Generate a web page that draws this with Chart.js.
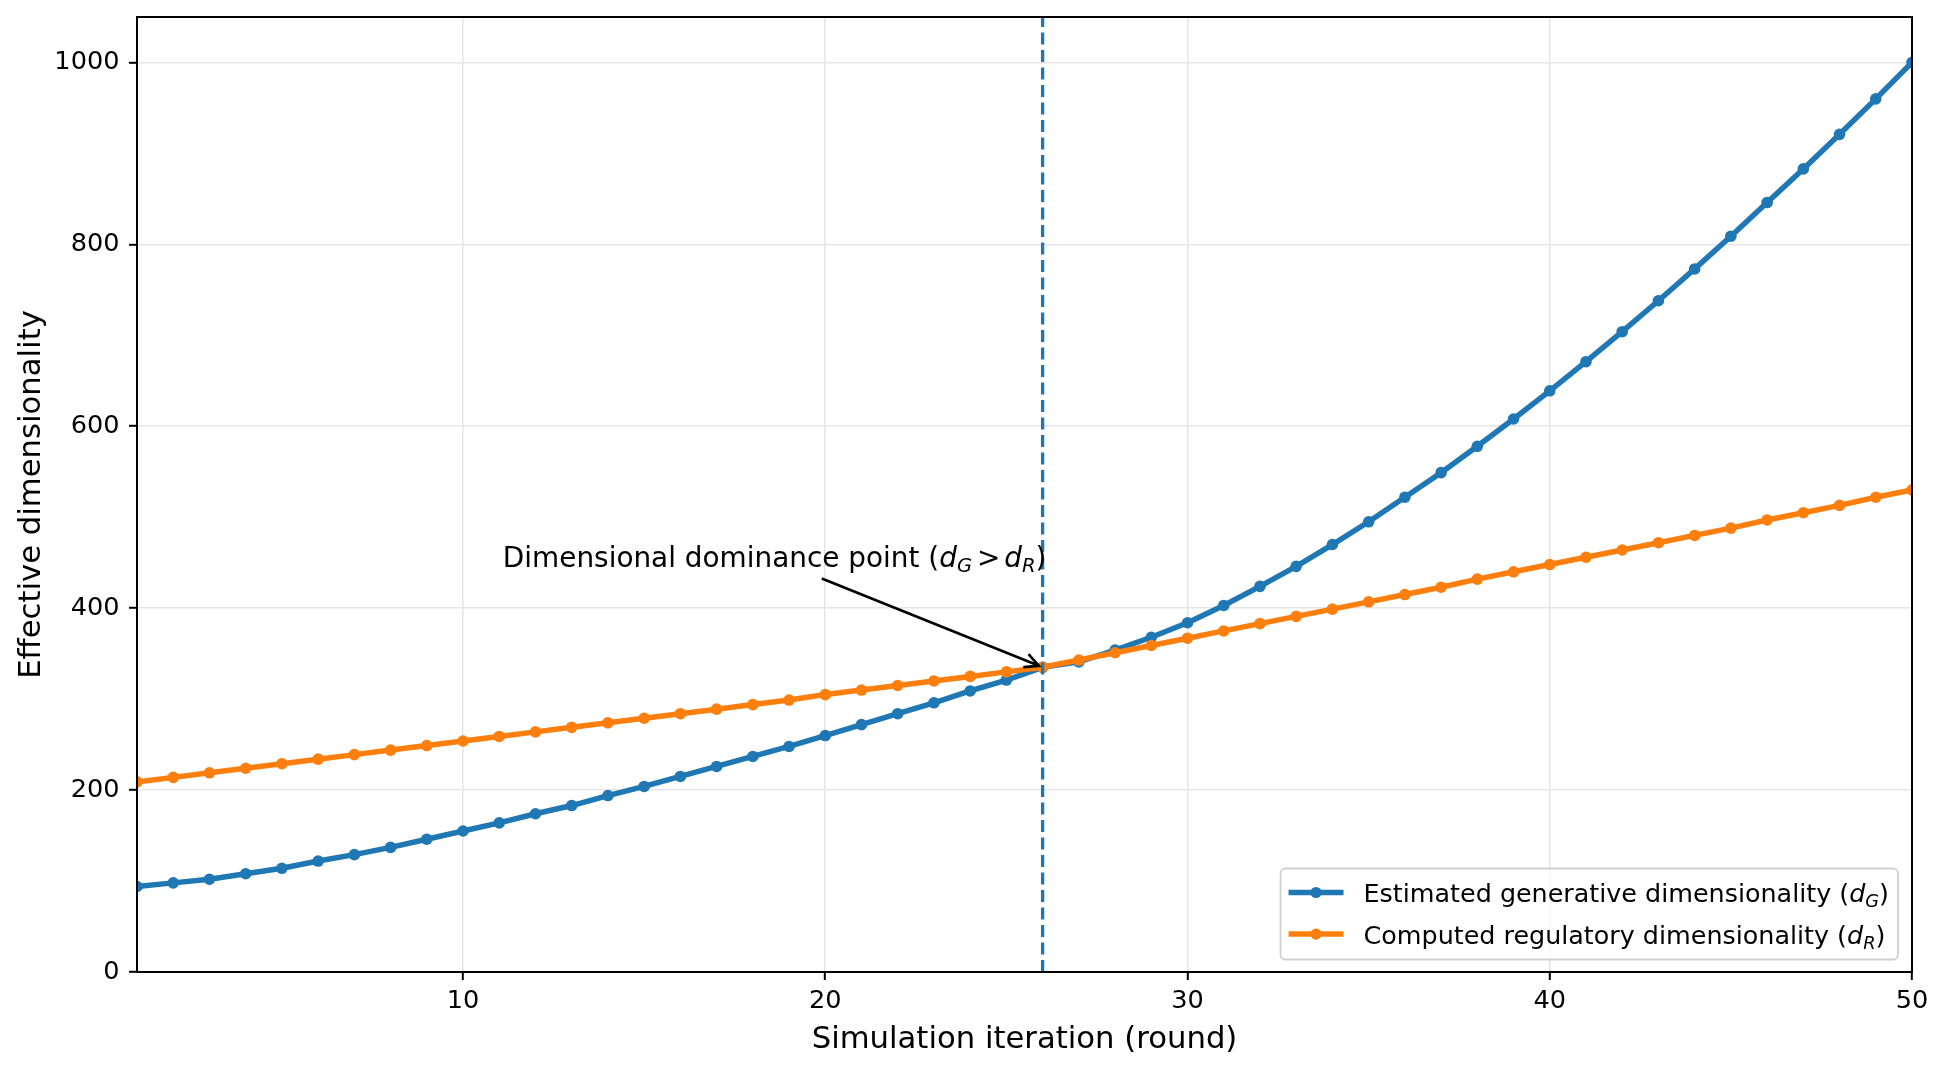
<!DOCTYPE html>
<html>
<head>
<meta charset="utf-8">
<script src="https://cdn.jsdelivr.net/npm/chart.js@4.4.0/dist/chart.umd.min.js"></script>
<style>
  html, body { margin: 0; padding: 0; background: #fff; }
  canvas { display: block; }
</style>
</head>
<body>
<canvas id="dim-chart" width="1940" height="1067"></canvas>
<script>
const ROUNDS = [
  1, 2, 3, 4, 5, 6, 7, 8, 9, 10,
  11, 12, 13, 14, 15, 16, 17, 18, 19, 20,
  21, 22, 23, 24, 25, 26, 27, 28, 29, 30,
  31, 32, 33, 34, 35, 36, 37, 38, 39, 40,
  41, 42, 43, 44, 45, 46, 47, 48, 49, 50,
];

// d_G, estimated generative dimensionality
const GEN_DIM = [
  94, 98, 102, 108, 114, 122, 129, 137, 146, 155,
  164, 174, 183, 194, 204, 215, 226, 237, 248, 260,
  272, 284, 296, 309, 321, 335, 341, 354, 368, 384,
  403, 424, 446, 470, 495, 522, 549, 578, 608, 639,
  671, 704, 738, 773, 809, 846, 883, 921, 960, 1000,
];

// d_R, computed regulatory dimensionality
const REG_DIM = [
  209, 214, 219, 224, 229, 234, 239, 244, 249, 254,
  259, 264, 269, 274, 279, 284, 289, 294, 299, 305,
  310, 315, 320, 325, 330, 335, 343, 351, 359, 367,
  375, 383, 391, 399, 407, 415, 423, 432, 440, 448,
  456, 464, 472, 480, 488, 497, 505, 513, 522, 530,
];

const X_TICKS = [10, 20, 30, 40, 50];
const Y_TICKS = [0, 200, 400, 600, 800, 1000];

const SERIES_LABELS = [
  "Estimated generative dimensionality",
  "Computed regulatory dimensionality",
];
const SERIES_SUBS = ["G", "R"];
const COLORS = ["#1f77b4", "#ff7f0e"];

const DOMINANCE_ROUND = 26;
const DOMINANCE_VALUE = 335;
const NOTE_ROUND = 11.1;
const NOTE_VALUE = 445.5;

const FAMILY = "'DejaVu Sans', sans-serif";
const TICK_SIZE = 25.6;
const LEGEND_SIZE = 25.4;
const NOTE_SIZE = 27.9;
const TITLE_SIZE = 30.7;

Chart.defaults.font.family = FAMILY;
Chart.defaults.color = "#000";

function fontStr(size, italic) {
  return (italic ? "italic " : "") + size + "px " + FAMILY;
}

// text pieces with italic / subscript, like matplotlib mathtext
function mathRuns(before, sub) {
  return [
    { text: before },
    { text: "d", italic: true },
    { text: sub, italic: true, sub: true },
  ];
}

function runsWidth(ctx, runs, size) {
  let w = 0;
  for (const r of runs) {
    const s = r.sub ? size * 0.7 : size;
    ctx.font = fontStr(s, r.italic);
    w += (r.pad || 0) + ctx.measureText(r.text).width + (r.padAfter || 0);
  }
  return w;
}

function drawRuns(ctx, runs, x, y, size) {
  ctx.textAlign = "left";
  ctx.textBaseline = "alphabetic";
  for (const r of runs) {
    const s = r.sub ? size * 0.7 : size;
    const dy = r.sub ? size * 0.2 : 0;
    ctx.font = fontStr(s, r.italic);
    x += r.pad || 0;
    ctx.fillText(r.text, x, y + dy);
    x += ctx.measureText(r.text).width + (r.padAfter || 0);
  }
  return x;
}

function legendRuns(i) {
  return [...mathRuns(SERIES_LABELS[i] + " (", SERIES_SUBS[i]), { text: ")" }];
}

function noteRuns() {
  return [
    ...mathRuns("Dimensional dominance point (", "G"),
    { text: ">", pad: NOTE_SIZE * 0.18, padAfter: NOTE_SIZE * 0.14 },
    { text: "d", italic: true },
    { text: "R", italic: true, sub: true },
    { text: ")" },
  ];
}

const extrasPlugin = {
  id: "extras",
  afterDatasetsDraw(chart) {
    const { ctx, chartArea, scales } = chart;
    const x = scales.x;
    const y = scales.y;

    // dashed vertical marker at the dominance round
    const vx = x.getPixelForValue(DOMINANCE_ROUND);
    ctx.save();
    ctx.beginPath();
    ctx.rect(chartArea.left, chartArea.top, chartArea.right - chartArea.left, chartArea.bottom - chartArea.top);
    ctx.clip();
    ctx.strokeStyle = COLORS[0];
    ctx.lineWidth = 3.3;
    ctx.setLineDash([12, 5.5]);
    ctx.beginPath();
    ctx.moveTo(vx, chartArea.bottom);
    ctx.lineTo(vx, chartArea.top);
    ctx.stroke();
    ctx.restore();

    // annotation text + arrow
    ctx.save();
    ctx.fillStyle = "#000";
    const runs = noteRuns();
    const tx = x.getPixelForValue(NOTE_ROUND);
    const ty = y.getPixelForValue(NOTE_VALUE);
    const w = runsWidth(ctx, runs, NOTE_SIZE);
    drawRuns(ctx, runs, tx, ty, NOTE_SIZE);

    const top = ty - 0.76 * NOTE_SIZE;
    const bottom = ty + 0.24 * NOTE_SIZE;
    const cx = tx + w / 2;
    const cy = (top + bottom) / 2;
    const px = x.getPixelForValue(DOMINANCE_ROUND);
    const py = y.getPixelForValue(DOMINANCE_VALUE);
    const t = (bottom + 5 - cy) / (py - cy);
    const sx = cx + t * (px - cx);
    const sy = cy + t * (py - cy);
    const ang = Math.atan2(py - sy, px - sx);
    const ex = px - Math.cos(ang) * 4;
    const ey = py - Math.sin(ang) * 4;
    ctx.strokeStyle = "#000";
    ctx.lineWidth = 2.6;
    ctx.beginPath();
    ctx.moveTo(sx, sy);
    ctx.lineTo(ex, ey);
    ctx.stroke();
    const hl = 14, hw = 7;
    const bx = ex - Math.cos(ang) * hl;
    const by = ey - Math.sin(ang) * hl;
    ctx.beginPath();
    ctx.moveTo(bx - Math.sin(ang) * hw, by + Math.cos(ang) * hw);
    ctx.lineTo(ex, ey);
    ctx.lineTo(bx + Math.sin(ang) * hw, by - Math.cos(ang) * hw);
    ctx.stroke();
    ctx.restore();

    // legend, lower right, matplotlib style
    ctx.save();
    const textW = Math.max(...SERIES_LABELS.map((_, i) => runsWidth(ctx, legendRuns(i), LEGEND_SIZE)));
    const boxW = 8 + 55 + 20 + textW + 9;
    const boxH = 91;
    const bxr = chartArea.right - 14;
    const bxb = chartArea.bottom - 12.5;
    const left = bxr - boxW;
    const topB = bxb - boxH;
    ctx.beginPath();
    ctx.roundRect(left, topB, boxW, boxH, 5);
    ctx.fillStyle = "rgba(255,255,255,0.8)";
    ctx.fill();
    ctx.strokeStyle = "#d0d0d0";
    ctx.lineWidth = 1.8;
    ctx.stroke();
    SERIES_LABELS.forEach((_, i) => {
      const rowY = topB + 24 + i * 41.6;
      ctx.strokeStyle = COLORS[i];
      ctx.lineWidth = 5.5;
      ctx.beginPath();
      ctx.moveTo(left + 8, rowY);
      ctx.lineTo(left + 63, rowY);
      ctx.stroke();
      ctx.fillStyle = COLORS[i];
      ctx.beginPath();
      ctx.arc(left + 35.5, rowY, 5.6, 0, Math.PI * 2);
      ctx.fill();
      ctx.fillStyle = "#000";
      drawRuns(ctx, legendRuns(i), left + 83, rowY + 0.39 * LEGEND_SIZE, LEGEND_SIZE);
    });
    ctx.restore();
  },
  afterDraw(chart) {
    // full box frame like matplotlib spines
    const { ctx, chartArea } = chart;
    ctx.save();
    ctx.strokeStyle = "#000";
    ctx.lineWidth = 2;
    ctx.strokeRect(chartArea.left, chartArea.top, chartArea.right - chartArea.left, chartArea.bottom - chartArea.top);
    ctx.restore();
  },
};

const seriesData = [GEN_DIM, REG_DIM].map((vals) => ROUNDS.map((r, i) => ({ x: r, y: vals[i] })));

new Chart(document.getElementById("dim-chart"), {
  type: "line",
  data: {
    datasets: seriesData.map((data, i) => ({
      label: SERIES_LABELS[i],
      data,
      borderColor: COLORS[i],
      backgroundColor: COLORS[i],
      borderWidth: 5.5,
      pointRadius: 5.8,
      pointBorderWidth: 0,
      pointBackgroundColor: COLORS[i],
      tension: 0,
      clip: 0,
      order: i === 0 ? 2 : 1,
    })),
  },
  options: {
    responsive: false,
    animation: false,
    devicePixelRatio: 1,
    layout: { padding: { top: 17, right: 28, left: 0, bottom: 0 } },
    plugins: {
      legend: { display: false },
      tooltip: { enabled: false },
    },
    scales: {
      x: {
        type: "linear",
        min: 1,
        max: 50,
        afterBuildTicks: (s) => { s.ticks = X_TICKS.map((v) => ({ value: v })); },
        afterFit: (s) => {
          s.height = 95;
          s.paddingLeft = 0;
          s.paddingRight = 0;
        },
        ticks: { font: { size: TICK_SIZE }, padding: 6, maxRotation: 0, color: "#000", callback: (v) => String(v) },
        grid: { color: "#e6e6e6", lineWidth: 1.6, tickColor: "#000", tickLength: 8, tickWidth: 2 },
        border: { color: "#000", width: 2 },
        title: {
          display: true,
          text: "Simulation iteration (round)",
          font: { size: TITLE_SIZE },
          padding: { top: 0, bottom: 9 },
          color: "#000",
        },
      },
      y: {
        min: 0,
        max: 1050,
        afterBuildTicks: (s) => { s.ticks = Y_TICKS.map((v) => ({ value: v })); },
        afterFit: (s) => {
          s.width = 137;
          s.paddingTop = 0;
          s.paddingBottom = 0;
        },
        ticks: { font: { size: TICK_SIZE }, padding: 9.5, color: "#000", callback: (v) => String(v) },
        grid: { color: "#e6e6e6", lineWidth: 1.6, tickColor: "#000", tickLength: 8, tickWidth: 2 },
        border: { color: "#000", width: 2 },
        title: {
          display: true,
          text: "Effective dimensionality",
          font: { size: TITLE_SIZE },
          padding: { top: 14, bottom: 0 },
          color: "#000",
        },
      },
    },
  },
  plugins: [extrasPlugin],
});
</script>
</body>
</html>
